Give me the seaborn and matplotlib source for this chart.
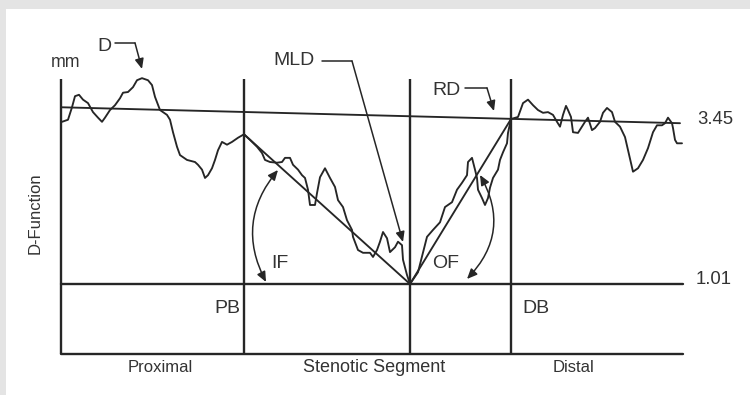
import numpy as np
import pandas as pd
import matplotlib
matplotlib.use("Agg")
import matplotlib.pyplot as plt
import seaborn as sns
from matplotlib.patches import FancyArrowPatch

# ---------------- data (position along vessel, diameter in mm) ----------------
prox_pos = [1, 7, 11, 14, 18, 22, 27, 32, 37, 41, 44, 49, 54, 59, 62, 67, 72, 76, 81, 87,
            91, 94, 99, 106, 109, 112, 116, 119, 126, 134, 137, 141, 144, 147, 151, 154,
            157, 161, 166, 171, 177, 183]
prox_d = [3.35, 3.38, 3.56, 3.72, 3.74, 3.67, 3.62, 3.49, 3.41, 3.35, 3.41, 3.52, 3.59, 3.69,
          3.77, 3.78, 3.85, 3.95, 3.98, 3.95, 3.88, 3.71, 3.52, 3.45, 3.38, 3.20, 2.99, 2.87,
          2.80, 2.77, 2.73, 2.66, 2.54, 2.58, 2.68, 2.80, 2.94, 3.06, 3.02, 3.06, 3.12, 3.17]

sten_pos = [189, 196, 201, 204, 209, 216, 221, 224, 229, 232, 237, 241, 244, 247, 249, 254,
            256, 259, 264, 269, 274, 277, 282, 286, 291, 292, 297, 302, 309, 312, 316, 319,
            322, 326, 329, 334, 337, 341, 342, 346, 349,
            357, 362, 366, 372, 379, 384, 391, 396, 401, 406, 407, 411, 414, 416, 417, 421,
            424, 427, 429, 432, 437, 439, 442, 446, 447, 450]
sten_d = [3.09, 2.99, 2.90, 2.80, 2.77, 2.76, 2.77, 2.83, 2.83, 2.73, 2.66, 2.58, 2.54, 2.37,
          2.15, 2.15, 2.32, 2.55, 2.68, 2.54, 2.41, 2.22, 2.12, 1.93, 1.79, 1.69, 1.50, 1.46,
          1.46, 1.40, 1.50, 1.62, 1.76, 1.67, 1.47, 1.54, 1.62, 1.57, 1.36, 1.14, 1.01,
          1.18, 1.46, 1.69, 1.79, 1.90, 2.12, 2.19, 2.37, 2.47, 2.58, 2.77, 2.83, 2.66, 2.54,
          2.37, 2.25, 2.15, 2.25, 2.40, 2.54, 2.66, 2.80, 2.91, 3.04, 3.19, 3.39]

dist_pos = [457, 462, 467, 472, 477, 482, 487, 492, 496, 499, 502, 505, 507, 510, 512, 517,
            521, 524, 527, 531, 534, 539, 542, 546, 551, 554, 559, 564, 567, 571, 572, 577,
            582, 587, 592, 596, 601, 604, 607, 611, 612, 614, 616, 621]
dist_d = [3.42, 3.62, 3.67, 3.59, 3.52, 3.48, 3.49, 3.45, 3.35, 3.28, 3.45, 3.58, 3.52, 3.42,
          3.20, 3.19, 3.28, 3.35, 3.41, 3.23, 3.26, 3.35, 3.48, 3.55, 3.49, 3.35, 3.28, 3.13,
          2.94, 2.68, 2.63, 2.68, 2.80, 2.97, 3.20, 3.30, 3.30, 3.33, 3.41, 3.33, 3.26, 3.09,
          3.04, 3.04]

# segment boundaries (position) and key values
x_start, x_pb, x_mld, x_db, x_end = 0, 183, 349, 450, 622
d_pb, d_mld, d_rd = 3.17, 1.01, 3.39
ref_pos = [0, 619]
ref_d = [3.56, 3.33]
frame_top = 3.97
segment_labels = ["Proximal", "Stenotic Segment", "Distal"]
boundary_labels = ["PB", "DB"]
value_labels = ["3.45", "1.01"]

# ---------------- figure ----------------
sns.set_style("white")
plt.rcParams["font.family"] = ["Liberation Sans", "DejaVu Sans"]
ink = "#262626"
txt = "#333333"
fs_big = 14.0
fs_num = 13.3
fs_small = 12.0

fig = plt.figure(figsize=(7.5, 3.95), dpi=100)
fig.patch.set_facecolor("#e4e4e4")
ax = fig.add_axes([6 / 750, 0, 744 / 750, 386 / 395])
ax.set_facecolor("white")
ax.set_xlim(-55, 689)
ax.set_ylim(-0.592, 4.978)
ax.set_xticks([])
ax.set_yticks([])
for s in ax.spines.values():
    s.set_visible(False)

# D-function profile
df = pd.DataFrame({"pos": prox_pos + sten_pos + dist_pos,
                   "diam": prox_d + sten_d + dist_d})
sns.lineplot(data=df, x="pos", y="diam", ax=ax, color=ink, lw=1.35,
             estimator=None, sort=False)
ax.set_xlabel("")
ax.set_ylabel("")

# frame
lw_f = 1.7
for xv in [x_start, x_pb, x_mld, x_db]:
    ax.plot([xv, xv], [0, frame_top], color=ink, lw=lw_f, solid_capstyle="butt")
ax.plot([x_start, x_end], [0, 0], color=ink, lw=lw_f)
ax.plot([x_start, x_end], [d_mld, d_mld], color=ink, lw=lw_f)

# reference line
ax.plot(ref_pos, ref_d, color=ink, lw=1.35)

# inflow/outflow lines
ax.plot([x_pb, x_mld], [d_pb, d_mld], color=ink, lw=1.35)
ax.plot([x_mld, x_db], [d_mld, d_rd], color=ink, lw=1.35)

# labels
ax.text(5, 4.21, "mm", ha="center", va="center", color=txt, fontsize=fs_num - 0.5)
ax.text(43, 4.43, "D", ha="center", va="center", color=txt, fontsize=fs_big)
ax.text(233, 4.23, "MLD", ha="center", va="center", color=txt, fontsize=fs_big)
ax.text(386, 3.80, "RD", ha="center", va="center", color=txt, fontsize=fs_big)
ax.text(636, 3.39, value_labels[0], ha="left", va="center", color=txt, fontsize=fs_num)
ax.text(635, 1.07, value_labels[1], ha="left", va="center", color=txt, fontsize=fs_num)
ax.text(166, 0.66, boundary_labels[0], ha="center", va="center", color=txt, fontsize=fs_big)
ax.text(475, 0.66, boundary_labels[1], ha="center", va="center", color=txt, fontsize=fs_big)
ax.text(219, 1.31, "IF", ha="center", va="center", color=txt, fontsize=fs_big)
ax.text(385, 1.31, "OF", ha="center", va="center", color=txt, fontsize=fs_big)
ax.text(99, -0.195, segment_labels[0], ha="center", va="center", color=txt, fontsize=fs_small)
ax.text(313.5, -0.195, segment_labels[1], ha="center", va="center", color=txt, fontsize=fs_small + 1.0)
ax.text(512.5, -0.195, segment_labels[2], ha="center", va="center", color=txt, fontsize=fs_small)
ax.text(-26, 2.03, "D-Function", ha="center", va="center", rotation=90,
        color=txt, fontsize=fs_small)

# leader arrows
arrow_kw = dict(arrowstyle="-|>,head_length=0.5,head_width=0.22", color=ink, lw=1.1,
                shrinkA=0, shrinkB=0, mutation_scale=12)
for (x0, x1, yy, xt, yt) in [(54, 74, 4.488, 81, 4.113),
                             (261, 291, 4.228, 342, 1.616),
                             (404, 426, 3.838, 433, 3.506)]:
    ax.plot([x0, x1], [yy, yy], color=ink, lw=1.1)
    ax.annotate("", xy=(xt, yt), xytext=(x1, yy), arrowprops=arrow_kw)

# angle arcs
dbl = "<|-|>,head_length=0.5,head_width=0.22"
ax.add_patch(FancyArrowPatch((217, 2.655), (205, 1.039), connectionstyle="arc3,rad=0.33",
                             arrowstyle=dbl, mutation_scale=12, color=ink, lw=1.1,
                             shrinkA=0, shrinkB=0))
ax.add_patch(FancyArrowPatch((419, 2.583), (406, 1.082), connectionstyle="arc3,rad=-0.37",
                             arrowstyle=dbl, mutation_scale=12, color=ink, lw=1.1,
                             shrinkA=0, shrinkB=0))

fig.savefig("out.png", dpi=100, facecolor=fig.get_facecolor())
